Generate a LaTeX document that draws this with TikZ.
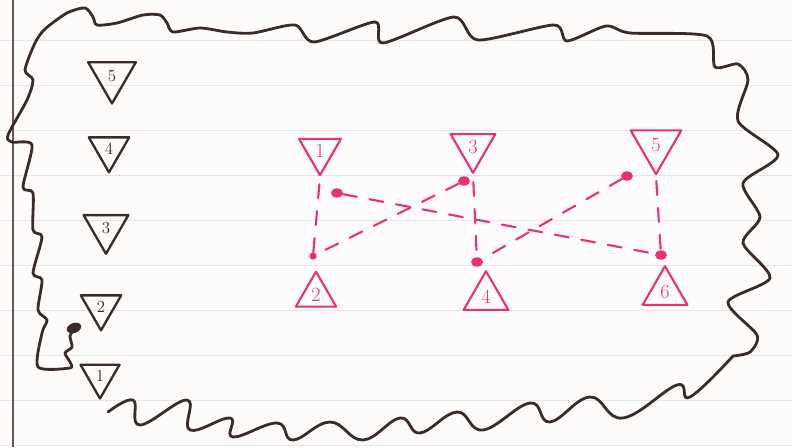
\documentclass[tikz,border=0pt]{standalone}
\usetikzlibrary{shapes.geometric}
\definecolor{penna}{HTML}{3B2C2C}
\definecolor{rosso}{HTML}{E8336E}
\definecolor{righe}{HTML}{E3E5EB}
\definecolor{carta}{HTML}{FDFCFA}

\begin{document}
\begin{tikzpicture}[x=0.03cm, y=-0.03cm,
        tri/.style={regular polygon, regular polygon sides=3, draw,
                line width=1.8pt, line join=round, inner sep=0pt,
                minimum size=1.65cm, font=\Large},
        giu/.style={tri, shape border rotate=180},
        nero/.style={draw=penna, text=penna, line width=2pt},
        rosa/.style={draw=rosso, text=rosso, font=\LARGE},
        punto/.style={ellipse, fill=rosso, inner sep=0pt,
                minimum width=0.36cm, minimum height=0.28cm},
        tratto/.style={rosso, line width=1.8pt, line cap=round,
                dash pattern=on 12pt off 11pt},
        bordo/.style={penna, line width=2.4pt, line join=round, line cap=round}
    ]
    % foglio a righe
    \fill[carta] (0,0) rectangle (792,447);
    \useasboundingbox (0,0) rectangle (792,447);
    \foreach \y in {40,85,...,445}
    \draw[righe, line width=0.6pt] (0,\y) -- (792,\y);
    \draw[penna!80, line width=1.2pt] (13,0) -- (13,447);

    % contorno a mano libera
    \draw[bordo]
    plot[smooth, tension=0.45] coordinates {
        (75,328) (70,336) (72,347) (65,353) (70,362) (70,368) (38,367)
        (42,333) (47,320) (38,310) (42,280) (33,273) (42,237) (33,230)
        (33,193) (23,187) (32,145) (12,142) (8,135) (27,100) (33,80)
        (25,70) (35,43) (45,29) (67,13) (85,8) (93,17) (97,25) (117,23)
        (143,15) (160,15) (167,23) (173,32) (200,28) (227,32) (253,33)
        (295,25) (314,42) (375,22) (383,43) (454,17) (478,40) (554,25)
        (567,41) (606,26) (630,33) (707,36) (715,67) (738,64) (748,80)
        (738,121) (778,155) (743,183) (760,217) (743,243) (770,278)
        (728,302) (757,335) (750,352) (733,356)};
    \draw[bordo]
    plot[smooth, tension=0.7] coordinates {
        (733,356) (690,397) (677,385)
        (623,418) (590,397) (550,422) (530,403) (483,430) (457,412)
        (420,433) (400,418) (363,440) (330,422) (293,440) (277,423)
        (233,437) (230,418) (190,430) (187,400) (140,425) (133,400)
        (108,412)};
    \node[ellipse, fill=penna, minimum width=0.45cm, minimum height=0.3cm,
        inner sep=0pt, rotate=20] (macchia) at (74,328) {};

    % triangoli a sinistra
    \node[giu, nero] (n5) at (112,76) {5};
    \node[giu, nero, minimum size=1.4cm] (n4) at (109,149) {4};
    \node[giu, nero, minimum size=1.55cm] (n3) at (106,228) {3};
    \node[giu, nero, minimum size=1.4cm] (n2) at (101,307) {2};
    \node[giu, nero, minimum size=1.35cm] (n1) at (100,376) {1};

    % triangoli rossi
    \node[giu, rosa, minimum size=1.45cm] (r1) at (320,151) {1};
    \node[giu, rosa, minimum size=1.55cm] (r3) at (473,147) {3};
    \node[giu, rosa, minimum size=1.75cm] (r5) at (656,145) {5};
    \node[tri, rosa, minimum size=1.4cm] (r2) at (316,295) {2};
    \node[tri, rosa, minimum size=1.55cm] (r4) at (486,297) {4};
    \node[tri, rosa, minimum size=1.55cm] (r6) at (665,292) {6};

    \node[punto] (p1) at (337,193) {};
    \node[punto] (p3) at (464,181) {};
    \node[punto] (p5) at (627,176) {};
    \node[punto, minimum width=0.22cm, minimum height=0.22cm] (p2) at (313,256) {};
    \node[punto] (p4) at (477,262) {};
    \node[punto] (p6) at (661,255) {};

    \draw[tratto, shorten <=6pt] (r1.corner 1) -- (p2);
    \draw[tratto, shorten <=6pt] (r3.corner 1) -- (p4);
    \draw[tratto, shorten <=4pt] (r5.corner 1) -- (p6);
    \draw[tratto] (p1) -- (p6);
    \draw[tratto] (p3) -- (p2);
    \draw[tratto] (p5) -- (p4);
\end{tikzpicture}
\end{document}
